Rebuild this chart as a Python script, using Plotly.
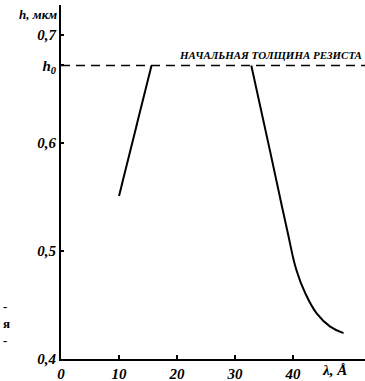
import plotly.graph_objects as go

# Data
h0 = 0.672
line1_x = [10.0, 15.6]
line1_y = [0.551, 0.672]
line2_x = [32.8, 36.0, 39.0, 40.6, 42.1, 44.1, 46.4, 48.7]
line2_y = [0.672, 0.5935, 0.519, 0.482, 0.461, 0.442, 0.430, 0.424]
x_ticks = [0, 10, 20, 30, 40]
x_labels = ["0", "10", "20", "30", "40"]
y_ticks = [0.4, 0.5, 0.6, h0, 0.7]
y_labels = ["0,4", "0,5", "0,6", "h<sub>0</sub>", "0,7"]

FONT = "Liberation Sans Narrow"

fig = go.Figure()
fig.add_trace(go.Scatter(x=[0, 52.4], y=[h0, h0], mode="lines",
                         line=dict(color="black", width=1.6, dash="9px,6px"),
                         hoverinfo="skip"))
fig.add_trace(go.Scatter(x=line1_x, y=line1_y, mode="lines",
                         line=dict(color="black", width=2)))
fig.add_trace(go.Scatter(x=line2_x, y=line2_y, mode="lines",
                         line=dict(color="black", width=2, shape="spline", smoothing=1.2)))

tickfont = dict(family=FONT, size=15, color="black", style="italic", weight="bold")

fig.update_layout(
    width=365, height=381,
    margin=dict(l=61, r=0, t=5, b=22),
    paper_bgcolor="white", plot_bgcolor="white",
    showlegend=False,
    xaxis=dict(range=[0, 52.4], tickvals=x_ticks, ticktext=x_labels,
               showgrid=False, zeroline=False, showline=True, linecolor="black",
               linewidth=2, ticks="inside", ticklen=4, tickwidth=1.5,
               tickcolor="black", tickfont=tickfont, automargin=False),
    yaxis=dict(range=[0.4, 0.728], tickvals=y_ticks, ticktext=y_labels,
               showgrid=False, zeroline=False, showline=True, linecolor="black",
               linewidth=2, ticks="inside", ticklen=3, tickwidth=1.5,
               tickcolor="black", tickfont=tickfont, automargin=False),
    annotations=[
        dict(text="h, мкм", xref="paper", yref="paper", x=-0.008, y=0.972,
             xanchor="right", yanchor="middle", showarrow=False,
             font=dict(family=FONT, size=13, color="black", style="italic", weight="bold")),
        dict(text="λ, Å", xref="x", yref="paper", x=47.2, y=0, yanchor="top", yshift=-1,
             showarrow=False,
             font=dict(family=FONT, size=15, color="black", style="italic", weight="bold")),
        dict(text="НАЧАЛЬНАЯ ТОЛЩИНА РЕЗИСТА", xref="x", yref="y", x=52.2, y=0.674,
             xanchor="right", yanchor="bottom", showarrow=False,
             font=dict(family=FONT, size=11, color="black", style="italic", weight="bold")),
        dict(text="-<br>я<br>-", xref="paper", yref="paper", x=-0.197, y=0.10,
             xanchor="left", yanchor="middle", showarrow=False, align="left",
             font=dict(family=FONT, size=13, color="black", weight="bold")),
    ],
)

fig.write_html("out.html", config={"displayModeBar": False},
               post_script="document.body.style.margin='0';document.body.style.overflow='hidden';")
